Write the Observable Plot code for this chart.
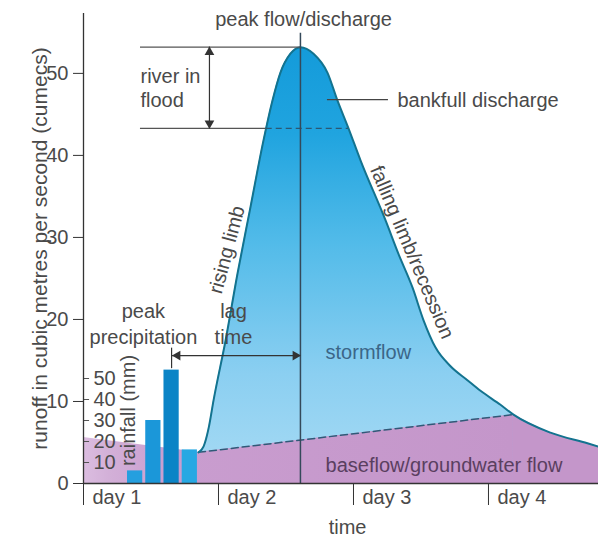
<!DOCTYPE html>
<html>
<head>
<meta charset="utf-8">
<script src="https://cdn.jsdelivr.net/npm/d3@7"></script>
<script src="https://cdn.jsdelivr.net/npm/@observablehq/plot@0.6"></script>
<style>
  html, body { margin: 0; padding: 0; background: #fff; }
  #chart svg { display: block; }
</style>
</head>
<body>
<div id="chart"></div>
<script>
// ---- data (time in days since start of day 1, runoff in cumecs) ----
const flowTime  = [0.852, 0.889, 0.9, 0.93, 0.963, 1.052, 1.141, 1.237, 1.333, 1.4, 1.459, 1.533, 1.607, 1.704, 1.807, 1.881, 1.963, 2.052, 2.237, 2.333, 2.437, 2.519, 2.607, 2.719, 2.844, 2.941, 3.089, 3.185, 3.459, 3.733, 3.815];
const flowValue = [3.8,   4.5,   5.0, 7.0,  10.1,  17.4,  25.6,  33.7,  41.8,  46.7, 50.1,  52.4,  53.2,  52.4,  50.1,  46.7,  43.3,  39.4,  32.1,  28.0,  23.9,  19.9,  16.6,  14.3,  12.6,  11.3,  9.6,   8.4,   6.2,   4.9,   4.5];
const baseTime  = [0, 0.852, 3.185];
const baseValue = [5.6, 3.8, 8.4];
const rainStart = [0.315, 0.45, 0.585, 0.72];
const rainEnd   = [0.45, 0.585, 0.72, 0.855];
const rainMM    = [6, 30, 54, 16];
const rainTicks = [10, 20, 30, 40, 50];
const runoffTicks = [0, 10, 20, 30, 40, 50];
const dayTicks  = [0, 1, 2, 3];
const dayLabels = ["day 1", "day 2", "day 3", "day 4"];
const bankfull  = 43.3;

// ---- derived ----
const flow = flowTime.map((t, i) => ({t, v: flowValue[i]}));
const peakIdx = d3.maxIndex(flowValue);
const peakTime = flowTime[peakIdx], peakFlow = flowValue[peakIdx];
function crossing(level, from, to, step) {
  for (let i = from; i !== to; i += step) {
    const a = flow[i], b = flow[i + step];
    if ((a.v - level) * (b.v - level) <= 0) return a.t + (level - a.v) / (b.v - a.v) * (b.t - a.t);
  }
  return flow[from].t;
}
const riseCross = crossing(bankfull, 0, peakIdx, 1);
const fallCross = crossing(bankfull, peakIdx, flow.length - 1, 1);
const meetTime = baseTime[baseTime.length - 1];
const base = baseTime.map((t, i) => ({t, v: baseValue[i]}));
const baseTail = flow.filter(d => d.t >= meetTime);
const stormLine = base.filter(d => d.t >= flowTime[0]);
const rain = rainMM.map((mm, i) => ({x1: rainStart[i], x2: rainEnd[i], mm}));
const peakRain = rain[d3.maxIndex(rainMM)];
const peakRainTime = (peakRain.x1 + peakRain.x2) / 2;

// layout / style constants
const k = 0.256; // mm of rainfall -> runoff units on the inset axis
const barColors = ["#259fdf", "#1b97d9", "#0b84c6", "#26a8e3"];
const txt = "#4a4a4a";
const purple = "#c496ca";

const T = (s, o) => Plot.text([s], {fontSize: 20, fill: txt, ...o});

const chart = Plot.plot({
  width: 598, height: 540,
  marginLeft: 83, marginRight: 0, marginTop: 13, marginBottom: 57,
  x: {domain: [0, 3.815], axis: null},
  y: {domain: [0, 57.3], axis: null},
  color: {type: "identity"},
  style: {fontFamily: "'Liberation Sans', Arial, Helvetica, sans-serif", fontSize: "20px", color: txt, background: "#fff"},
  marks: [
    // stormflow (total runoff) area
    Plot.areaY(flow, {x: "t", y1: 0, y2: "v", curve: "monotone-x", fill: "url(#stormGrad)"}),
    // baseflow
    Plot.areaY(base, {x: "t", y1: 0, y2: "v", fill: "url(#baseGrad)"}),
    Plot.areaY(baseTail, {x: "t", y1: 0, y2: "v", curve: "monotone-x", fill: purple}),
    // rainfall bars
    Plot.rect(rain, {x1: "x1", x2: "x2", y1: 0, y2: d => d.mm * k, fill: (d, i) => barColors[i], insetLeft: 1.5, insetRight: 1.5}),
    // baseflow separation line
    Plot.line(stormLine, {x: "t", y: "v", stroke: "#2f5a78", strokeWidth: 1.5, strokeDasharray: "7,4"}),
    // hydrograph line
    Plot.line(flow, {x: "t", y: "v", curve: "monotone-x", stroke: "#13738f", strokeWidth: 2}),
    // peak & bankfull guides
    Plot.ruleY([peakFlow], {x1: 0.422, x2: peakTime, stroke: "#555", strokeWidth: 1.2}),
    Plot.ruleY([bankfull], {x1: 0.422, x2: riseCross, stroke: "#555", strokeWidth: 1.2}),
    Plot.ruleY([bankfull], {x1: riseCross, x2: fallCross, stroke: "#2a5874", strokeWidth: 1.2, strokeDasharray: "6,4"}),
    Plot.ruleX([peakTime], {y1: 0, y2: 54.9, stroke: "#34495a", strokeWidth: 1.5}),
    // river in flood double arrow
    Plot.ruleX([0.933], {y1: bankfull, y2: peakFlow, stroke: "#333", strokeWidth: 1.2}),
    Plot.dot([peakFlow], {x: 0.933, y: d => d, symbol: "triangle", r: 3.6, fill: "#333", stroke: null, dy: 5}),
    Plot.dot([bankfull], {x: 0.933, y: d => d, symbol: "triangle", r: 3.6, fill: "#333", stroke: null, rotate: 180, dy: -5}),
    // bankfull leader
    Plot.ruleY([46.8], {x1: 1.807, x2: 2.259, stroke: "#444", strokeWidth: 1.2}),
    // lag time arrow
    Plot.ruleY([15.6], {x1: peakRainTime, x2: peakTime, stroke: "#333", strokeWidth: 1.2}),
    Plot.ruleX([peakRainTime], {y1: 14.0, y2: 16.5, stroke: "#333", strokeWidth: 1.2}),
    Plot.dot([peakRainTime], {x: d => d, y: 15.6, symbol: "triangle", r: 3.6, fill: "#333", stroke: null, rotate: -90, dx: 6}),
    Plot.dot([peakTime], {x: d => d, y: 15.6, symbol: "triangle", r: 3.6, fill: "#333", stroke: null, rotate: 90, dx: -5}),
    // rainfall inset axis
    Plot.ruleY(rainTicks, {y: d => d * k, x1: 0, x2: 0.045, stroke: "#555"}),
    Plot.text(rainTicks, {y: d => d * k, frameAnchor: "left", dx: 10, textAnchor: "start", fontSize: 20, fill: txt}),
    T("rainfall (mm)", {x: 0.333, y: 8.9, rotate: -90}),
    // axes
    Plot.ruleX([0], {stroke: "#333", strokeWidth: 1.3}),
    Plot.ruleY([0], {stroke: "#333", strokeWidth: 1.3}),
    Plot.axisY(runoffTicks, {tickSize: 10, tickPadding: 5, fontSize: 20, stroke: "#333", label: null}),
    Plot.axisX(dayTicks, {tickSize: 22, tickFormat: () => "", stroke: "#333", label: null}),
    Plot.text(dayTicks, {x: d => d, text: (d, i) => dayLabels[i], frameAnchor: "bottom", dx: 9, dy: 20, textAnchor: "start", fontSize: 20, fill: txt}),
    Plot.text(["runoff in cubic metres per second (cumecs)"], {frameAnchor: "left", dx: -43, rotate: -90, textAnchor: "middle", fontSize: 21, fill: txt}),
    Plot.text(["time"], {x: 1.956, frameAnchor: "bottom", dy: 50, fontSize: 20, fill: txt}),
    // annotations
    T("peak flow/discharge", {x: 1.63, y: 56.5}),
    T("river in", {x: 0.422, y: 49.6, textAnchor: "start"}),
    T("flood", {x: 0.422, y: 46.7, textAnchor: "start"}),
    T("bankfull discharge", {x: 2.326, y: 46.7, textAnchor: "start"}),
    T("rising limb", {x: 1.063, y: 28.5, rotate: -75}),
    T("falling limb/recession", {x: 2.433, y: 28.2, rotate: 67}),
    T("stormflow", {x: 1.793, y: 16.0, textAnchor: "start", fill: "#3b6688"}),
    T("baseflow/groundwater flow", {x: 1.793, y: 2.2, textAnchor: "start", fill: "#5a3f60"}),
    T("peak", {x: 0.444, y: 20.9}),
    T("precipitation", {x: 0.444, y: 17.8}),
    T("lag", {x: 1.111, y: 20.9}),
    T("time", {x: 1.111, y: 17.8})
  ]
});

// gradients
const defs = d3.select(chart).insert("defs", ":first-child");
const grad = defs.append("linearGradient").attr("id", "stormGrad")
  .attr("x1", 0).attr("y1", 0).attr("x2", 0).attr("y2", 1);
[[0, "#149bda"], [0.2, "#20a4df"], [0.45, "#52bbe9"], [0.75, "#8bcff1"], [1, "#a8dbf4"]]
  .forEach(([o, c]) => grad.append("stop").attr("offset", o).attr("stop-color", c));
const bgrad = defs.append("linearGradient").attr("id", "baseGrad")
  .attr("x1", 0).attr("y1", 0).attr("x2", 1).attr("y2", 0);
[[0, "#dbbde0"], [0.06, "#d3b0d8"], [0.2, "#c99dcf"], [1, purple]]
  .forEach(([o, c]) => bgrad.append("stop").attr("offset", o).attr("stop-color", c));

document.getElementById("chart").appendChild(chart);
</script>
</body>
</html>
